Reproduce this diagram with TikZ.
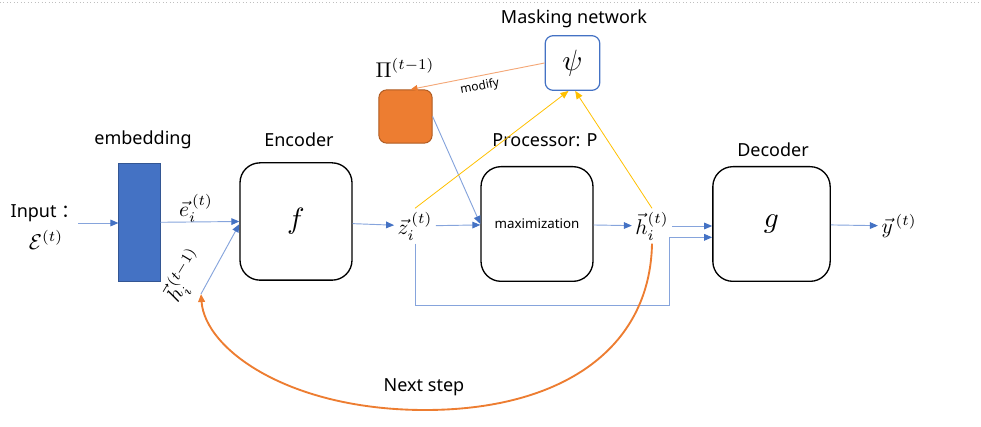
\documentclass[tikz,border=0pt]{standalone}
\usepackage{amsmath}
\usepackage{fontspec}
\setmainfont{Noto Sans}
\newfontfamily\cjkfont{Noto Sans CJK SC}
\usetikzlibrary{arrows.meta,positioning}

\definecolor{boxblue}{HTML}{4472C4}
\definecolor{lineblue}{HTML}{86A4DC}
\definecolor{maskorange}{HTML}{ED7D31}
\definecolor{edgeorange}{HTML}{AE5A21}
\definecolor{lightorange}{HTML}{F4A878}
\definecolor{maskyellow}{HTML}{FFC000}

\newcommand{\bigsym}[1]{\scalebox{2.2}{$#1$}}
\newcommand{\mvar}[1]{\scalebox{1.6}{$#1$}}

\tikzset{
  block/.style={draw=black, line width=1pt, rounded corners=15pt, minimum width=84pt, minimum height=86pt, font=\fontsize{10}{12}\selectfont},
  embed/.style={fill=boxblue, draw=boxblue!75!black, line width=0.6pt, minimum width=31pt, minimum height=89pt},
  maskbox/.style={draw=boxblue, line width=0.9pt, rounded corners=6pt, fill=white, minimum size=41pt},
  pibox/.style={fill=maskorange, draw=edgeorange, line width=0.7pt, rounded corners=6pt, minimum size=40pt},
  title/.style={font=\fontsize{13.5}{16}\selectfont},
  var/.style={inner sep=2.5pt},
  flow/.style={draw=lineblue, line width=0.7pt, -{Triangle[length=6pt,width=5pt,color=boxblue]}},
  yflow/.style={draw=maskyellow, line width=0.6pt, -{Triangle[length=6pt,width=5pt]}},
  mflow/.style={draw=lightorange, line width=0.7pt, -{Triangle[length=5pt,width=4.5pt,color=maskorange]}},
  nextstep/.style={draw=maskorange, line width=1.4pt, -{Triangle[length=6pt,width=5pt]}}
}

\begin{document}
\begin{tikzpicture}[x=0.75pt,y=-0.75pt]
\useasboundingbox (0,0) rectangle (981,427);
\draw[gray!50, dotted, line width=0.6pt] (0,2) -- (981,2);

% blocks
\node[embed] (emb) at (139.5,222.5) {};
\node[block, minimum height=88pt] (enc) at (296,221.5) {\bigsym{f}};
\node[block] (proc) at (537,224) {maximization};
\node[block, minimum width=88pt] (dec) at (771.5,224) {\bigsym{g}};
\node[maskbox] (psi) at (572.5,63) {\bigsym{\psi}};
\node[pibox] (pi) at (405.5,116.5) {};

% titles
\node[title] (embt) at (143,140) {embedding};
\node[title] (enct) at (299,140) {Encoder};
\node[title] (proct) at (545,140) {Processor: P};
\node[title] (dect) at (773,150) {Decoder};
\node[title] (psit) at (574,19) {Masking network};
\node[var] (pit) at (405,68) {\mvar{\Pi^{(t-1)}}};
\node[title] (in) at (45,213) {Input {\cjkfont ：}};
\node[var] (eps) at (46,240) {\mvar{\mathcal{E}^{(t)}}};

% variables
\node[var] (et) at (196,208) {\mvar{\vec{e}_i^{\,(t)}}};
\node[var, rotate=59] (hprev) at (185,276) {\mvar{\vec{h}_i^{(t-1)}}};
\node[var] (zt) at (415,226) {\mvar{\vec{z}_i^{\,(t)}}};
\node[var] (ht) at (652,226) {\mvar{\vec{h}_i^{(t)}}};
\node[var] (yt) at (899,226) {\mvar{\vec{y}^{\,(t)}}};
\coordinate (inpt) at (78,223);
\coordinate (hp) at (201,294);
\coordinate (bend) at (669,305);

% connectors
\draw[flow] (inpt) -- (inpt -| emb.west);
\draw[flow] (emb) -- (enc.west);
\draw[flow] (hp) -- ([yshift=-2pt]enc.west);
\draw[flow] (enc) -- (zt);
\draw[flow] (zt) -- (proc);
\draw[flow] (proc) -- (ht);
\draw[flow] (ht) -- (ht -| dec.west);
\draw[flow] (zt.south) |- (bend) |- ([yshift=-10pt]dec.west);
\draw[flow] (pi.east) -- (proc.west);
\draw[flow] (dec) -- (yt);

\draw[yflow] (zt.north) -- ([xshift=-3pt]psi.south);
\draw[yflow] (ht.north) -- ([xshift=2pt]psi.south);
\draw[mflow] (psi.west) -- ([xshift=4pt]pi.north) node[midway, sloped, below, font=\fontsize{9}{11}\selectfont] {modify};

\draw[nextstep] (ht.south) .. controls (650,350) and (560,410) .. (425,410) .. controls (290,410) and (205,350) .. (hp);
\node[title] (next) at (424,387) {Next step};
\end{tikzpicture}
\end{document}
